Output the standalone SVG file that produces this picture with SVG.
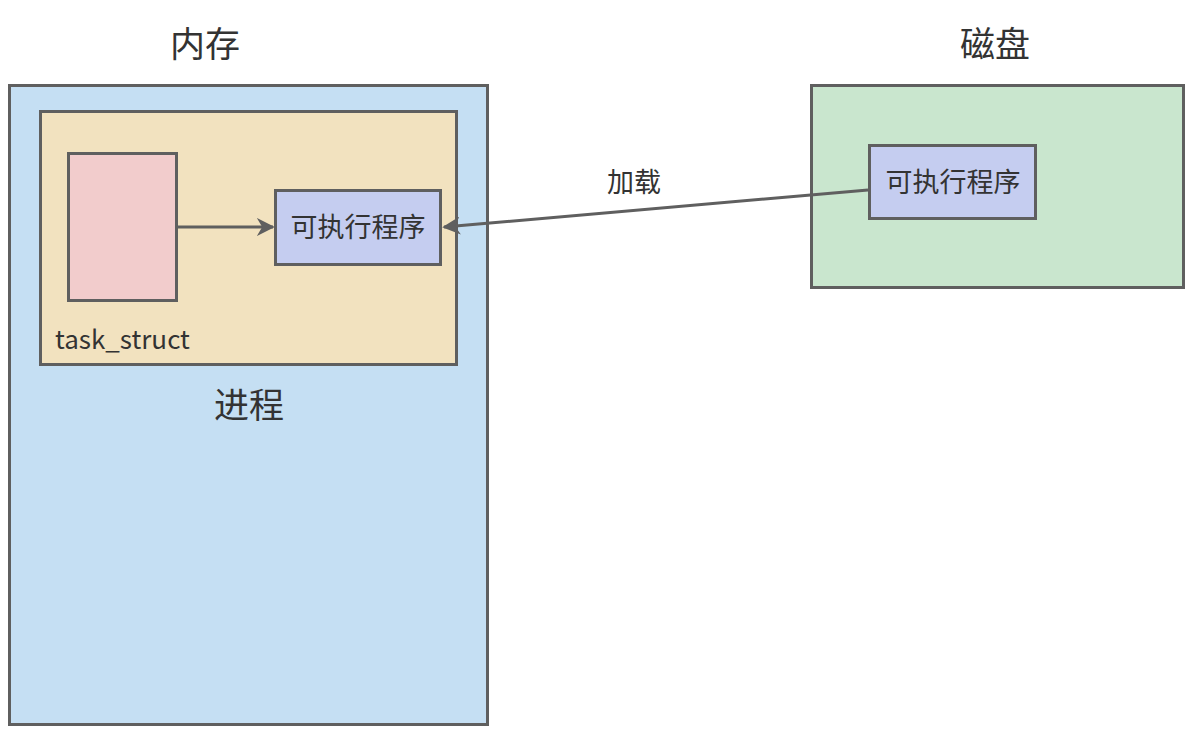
<svg xmlns="http://www.w3.org/2000/svg" width="1197" height="732" viewBox="0 0 1197 732">
<style>
.box{stroke:#5f5f5f;stroke-width:3}
.t{font-family:"Noto Sans CJK SC","Open Sans",sans-serif;fill:#333333}
.c{stroke:#5f5f5f;stroke-width:3;fill:none}
</style>
<defs>
<marker id="ah" viewBox="0 0 10 10" refX="9" refY="5" markerWidth="6" markerHeight="6" orient="auto" markerUnits="strokeWidth">
<path d="M0,0 L10,5 L0,10 L3,5 Z" fill="#5f5f5f"/>
</marker>
</defs>
<rect width="1197" height="732" fill="#ffffff"/>
<text class="t" x="205" y="57" font-size="35" text-anchor="middle">内存</text>
<text class="t" x="995" y="57" font-size="35" text-anchor="middle">磁盘</text>
<g id="memory">
<rect class="box" x="9.5" y="85.5" width="478" height="639" fill="#c5dff3"/>
</g>
<g id="process">
<rect class="box" x="40.5" y="111.5" width="416" height="253" fill="#f2e2bf"/>
<text class="t" x="249" y="418" font-size="35" text-anchor="middle">进程</text>
</g>
<g id="task_struct">
<rect class="box" x="68.5" y="153.5" width="108" height="147" fill="#f2cccc"/>
<text class="t" x="55" y="349" font-size="26">task_struct</text>
</g>
<g id="exe_mem">
<rect class="box" x="275.5" y="190.5" width="165" height="74" fill="#c5cdf0"/>
<text class="t" x="358" y="237" font-size="27" text-anchor="middle">可执行程序</text>
</g>
<g id="disk">
<rect class="box" x="811.5" y="85.5" width="372" height="202" fill="#c9e6ce"/>
</g>
<g id="exe_disk">
<rect class="box" x="869.5" y="145.5" width="166" height="73" fill="#c5cdf0"/>
<text class="t" x="953" y="192" font-size="27" text-anchor="middle">可执行程序</text>
</g>
<g id="connectors">
<line class="c" x1="177" y1="227" x2="273" y2="227" marker-end="url(#ah)"/>
<line class="c" x1="868" y1="190" x2="444" y2="227" marker-end="url(#ah)"/>
<text class="t" x="634" y="192" font-size="27" text-anchor="middle">加载</text>
</g>
</svg>
